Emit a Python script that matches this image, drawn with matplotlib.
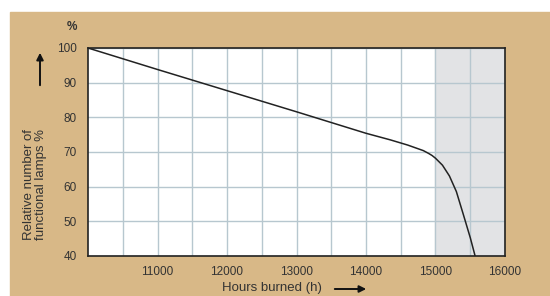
import matplotlib.pyplot as plt
from matplotlib.patches import Rectangle, FancyArrowPatch

plt.rcParams['font.family'] = ['Liberation Sans', 'DejaVu Sans']

# lamp survival curve
hours = [10000, 11000, 12000, 13000, 14000, 14350, 14600, 14825, 14900, 14950,
         15000, 15100, 15200, 15300, 15400, 15500, 15570]
functional = [100, 93.8, 87.7, 81.6, 75.4, 73.5, 72.0, 70.4, 69.6, 69.0,
              68.2, 66.2, 63.1, 58.6, 52.0, 45.3, 40.0]
xticks = [11000, 12000, 13000, 14000, 15000, 16000]
yticks = [40, 50, 60, 70, 80, 90, 100]

W, H = 550, 296
fig = plt.figure(figsize=(W / 100, H / 100), dpi=100)
fig.patch.set_facecolor('white')
# tan panel
fig.patches.append(Rectangle((10 / W, 0), 1 - 10 / W, 1 - 12 / H,
                             transform=fig.transFigure, color='#d8b887', zorder=-5))

ax = fig.add_axes([88 / W, 1 - 256 / H, (505 - 88) / W, (256 - 48) / H], zorder=2)
ax.set_facecolor('white')
ax.axvspan(15000, 16000, color='#e2e3e5', zorder=0)
ax.set_xlim(10000, 16000)
ax.set_ylim(40, 100)
grid_x = list(range(10500, 16001, 500))
ax.set_xticks(grid_x)
ax.set_xticklabels([str(t) if t in xticks else '' for t in grid_x])
ax.set_yticks(yticks)
ax.grid(True, color='#b7c7cf', lw=1.0, zorder=1)
ax.set_axisbelow(True)
ax.tick_params(length=0, labelsize=8.5, colors='#333333', pad=7)
ax.tick_params(axis='y', pad=8)
for s in ax.spines.values():
    s.set_color('#222222')
    s.set_linewidth(1.2)

ax.plot(hours, functional, color='#222222', lw=1.1, zorder=3)

fig.text(72 / W, 1 - 27 / H, '%', fontsize=8.5, weight='bold', color='#333333',
         ha='center', va='center', zorder=5)
fig.text(35 / W, 1 - 185 / H, 'Relative number of\nfunctional lamps %', fontsize=9.5,
         color='#333333', rotation=90, ha='center', va='center', linespacing=1.0, zorder=5)
fig.text(272 / W, 1 - 288 / H, 'Hours burned (h)', fontsize=9.5, color='#333333',
         ha='center', va='center', zorder=5)

fig.patches.append(FancyArrowPatch((40 / W, 1 - 88 / H), (40 / W, 1 - 50 / H),
                                   transform=fig.transFigure, arrowstyle='-|>',
                                   mutation_scale=10, color='#111111', lw=1.4, zorder=5))
fig.patches.append(FancyArrowPatch((332 / W, 1 - 289 / H), (369 / W, 1 - 289 / H),
                                   transform=fig.transFigure, arrowstyle='-|>',
                                   mutation_scale=10, color='#111111', lw=1.4, zorder=5))

fig.savefig('out.png', dpi=100)
